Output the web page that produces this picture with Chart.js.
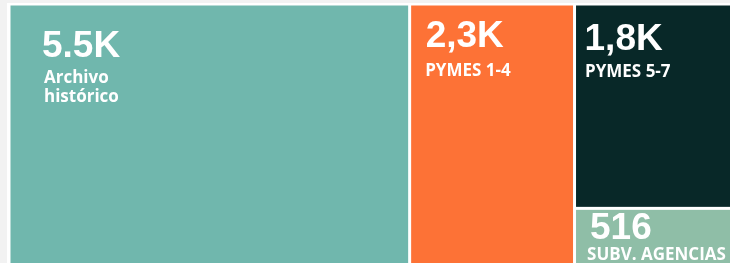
<!DOCTYPE html>
<html>
<head>
<meta charset="utf-8">
<script src="https://cdn.jsdelivr.net/npm/chart.js@4.4.0/dist/chart.umd.min.js"></script>
<style>
  html, body { margin: 0; padding: 0; background: #f2f2f2; overflow: hidden; }
  #card { position: absolute; left: 7px; top: 3px; width: 800px; height: 300px; background: #fff; }
  #wrap { position: absolute; left: 0; top: 0; width: 730px; height: 263px; }
</style>
</head>
<body>
<div id="card"></div>
<div id="wrap"><canvas id="treemap"></canvas></div>
<script>
// datos del treemap
const categories = ["Archivo\nhistórico", "PYMES 1-4", "PYMES 5-7", "SUBV. AGENCIAS"];
const values = [5540, 2280, 1800, 516];
const valueLabels = ["5.5K", "2,3K", "1,8K", "516"];

// estilo por casilla
const colors = ["#70b7ad", "#fd7236", "#082828", "#8fbea7"];
// [x texto valor, base valor, x etiqueta, base etiqueta]
const textPad = [[31.5, 51.5, 33.5, 77.5], [14.5, 41.5, 14, 70.5], [8.5, 44.5, 9, 71.5], [14, 29.5, 11, 50.5]];

function worst(row, side) {
  const s = row.reduce((a, b) => a + b, 0);
  const mx = Math.max(...row), mn = Math.min(...row);
  return Math.max(side * side * mx / (s * s), (s * s) / (side * side * mn));
}

// algoritmo squarify, todo en pixeles
function squarify(areas, r) {
  const rects = [];
  r = { ...r };
  let i = 0;
  while (i < areas.length) {
    const side = Math.min(r.w, r.h);
    const row = [areas[i]];
    let j = i + 1;
    while (j < areas.length && worst(row.concat(areas[j]), side) <= worst(row, side)) {
      row.push(areas[j]);
      j++;
    }
    const s = row.reduce((a, b) => a + b, 0);
    if (r.w >= r.h) {
      const t = s / r.h;
      let yy = r.y;
      row.forEach(a => { const hh = a / t; rects.push({ x: r.x, y: yy, w: t, h: hh }); yy += hh; });
      r.x += t; r.w -= t;
    } else {
      const t = s / r.w;
      let xx = r.x;
      row.forEach(a => { const ww = a / t; rects.push({ x: xx, y: r.y, w: ww, h: t }); xx += ww; });
      r.y += t; r.h -= t;
    }
    i = j;
  }
  return rects;
}

const treemapPlugin = {
  id: 'treemap',
  beforeDatasetsDraw(chart) {
    const ctx = chart.ctx;
    const xs = chart.scales.x, ys = chart.scales.y;
    // el dominio del treemap es [0,1] x [0,1]
    const W = Math.abs(xs.getPixelForValue(1) - xs.getPixelForValue(0));
    const H = Math.abs(ys.getPixelForValue(1) - ys.getPixelForValue(0));
    const total = values.reduce((a, b) => a + b, 0);
    const areas = values.map(v => v / total * W * H);
    const rects = squarify(areas, { x: 0, y: 0, w: W, h: H });
    const gap = 1.5;

    ctx.save();
    rects.forEach((r, i) => {
      const left = xs.getPixelForValue(r.x / W) + gap;
      const right = xs.getPixelForValue((r.x + r.w) / W) - gap;
      const top = ys.getPixelForValue(r.y / H) + gap;
      const bottom = ys.getPixelForValue((r.y + r.h) / H) - gap;
      ctx.fillStyle = colors[i];
      ctx.fillRect(left, top, right - left, bottom - top);

      const p = textPad[i];
      ctx.fillStyle = '#ffffff';
      ctx.textBaseline = 'alphabetic';
      ctx.textAlign = 'left';
      ctx.font = 'bold 37px "Liberation Sans", Arial, sans-serif';
      ctx.fillText(valueLabels[i], left + p[0], top + p[1]);
      ctx.font = 'bold 17px "Open Sans", sans-serif';
      categories[i].split('\n').forEach((line, k) => {
        ctx.fillText(line, left + p[2], top + p[3] + k * 19);
      });
    });
    ctx.restore();
  }
};

new Chart(document.getElementById('treemap'), {
  type: 'scatter',
  data: { datasets: [{ data: [], pointRadius: 0 }] },
  options: {
    responsive: true,
    maintainAspectRatio: false,
    animation: false,
    layout: { padding: { left: 9, top: 4, right: 0, bottom: 0 } },
    plugins: { legend: { display: false }, tooltip: { enabled: false } },
    scales: {
      // parte visible del dominio, el resto queda fuera de la foto
      x: { display: false, min: 0, max: 0.9836 },
      y: { display: false, min: 0, max: 0.985, reverse: true }
    }
  },
  plugins: [treemapPlugin]
});
</script>
</body>
</html>
